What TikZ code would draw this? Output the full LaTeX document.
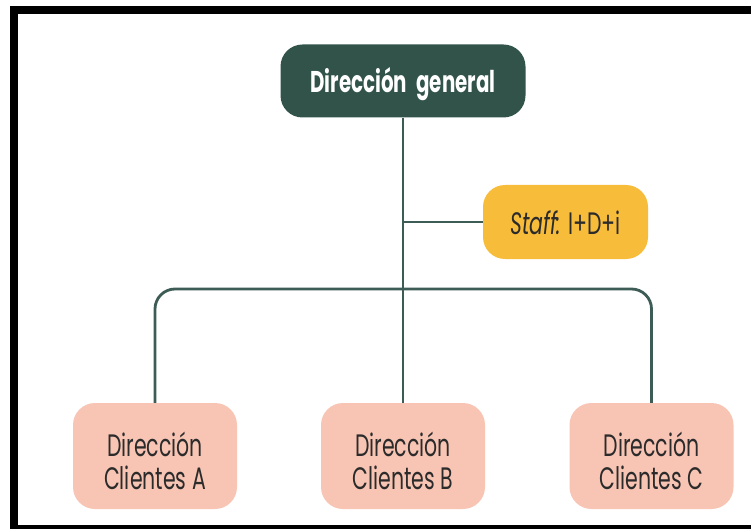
\documentclass[tikz,border=0pt]{standalone}
\usepackage{fontspec}
\setmainfont[FakeStretch=0.66]{Poppins}
\definecolor{topgreen}{HTML}{32534A}
\definecolor{linegreen}{HTML}{3D5C55}
\definecolor{staffyellow}{HTML}{F8BC3B}
\definecolor{unitsalmon}{HTML}{F8C5B4}
\definecolor{textdark}{HTML}{2B2B2B}
\begin{document}
\begin{tikzpicture}[x=1pt, y=-1pt,
  boxbase/.style={rounded corners=22pt, inner sep=0pt},
  labeltext/.style={inner sep=0pt, align=center, text=textdark, font=\fontsize{31}{33}\selectfont},
  topbox/.style={boxbase, fill=topgreen, minimum width=245pt, minimum height=73pt},
  toptext/.style={labeltext, text=white, font=\fontsize{30}{33}\selectfont\bfseries},
  staffbox/.style={boxbase, fill=staffyellow, minimum width=165pt, minimum height=74pt},
  unitbox/.style={boxbase, fill=unitsalmon, minimum width=164pt, minimum height=106pt},
  conn/.style={draw=linegreen, line width=2.8pt}]
  \useasboundingbox (0,0) rectangle (751,529);
  % outer frame
  \fill[white] (0,0) rectangle (751,529);
  \fill[black] (10,6) rectangle (751,529);
  \fill[white] (18,14) rectangle (751,525);

  % boxes
  \node[topbox] (top) at (403,81) {};
  \node[staffbox] (staff) at (565.5,222) {};
  \node[unitbox] (A) at (155,456) {};
  \node[unitbox] (B) at (403,456) {};
  \node[unitbox] (C) at (651.5,456) {};
  \coordinate (bar) at (0,289);

  % box texts
  \node[toptext] (toplbl) at ([yshift=-3pt]top.center) {Dirección\hspace{5pt} general};
  \node[labeltext] (stafflbl) at ([yshift=-1pt]staff.center) {\textit{Staff:} I+D+i};
  \node[labeltext] (Albl) at ([yshift=-5pt]A.center) {Dirección\\Clientes A};
  \node[labeltext] (Blbl) at ([yshift=-5pt]B.center) {Dirección\\Clientes B};
  \node[labeltext] (Clbl) at ([yshift=-5pt]C.center) {Dirección\\Clientes C};

  % connectors
  \draw[conn] (top.south) -- (B.north);
  \draw[conn] (staff.west) -- (staff.west -| top.south);
  \draw[conn, rounded corners=20pt] (A.north) -- (A.north |- bar) -- (C.north |- bar) -- (C.north);
\end{tikzpicture}
\end{document}
